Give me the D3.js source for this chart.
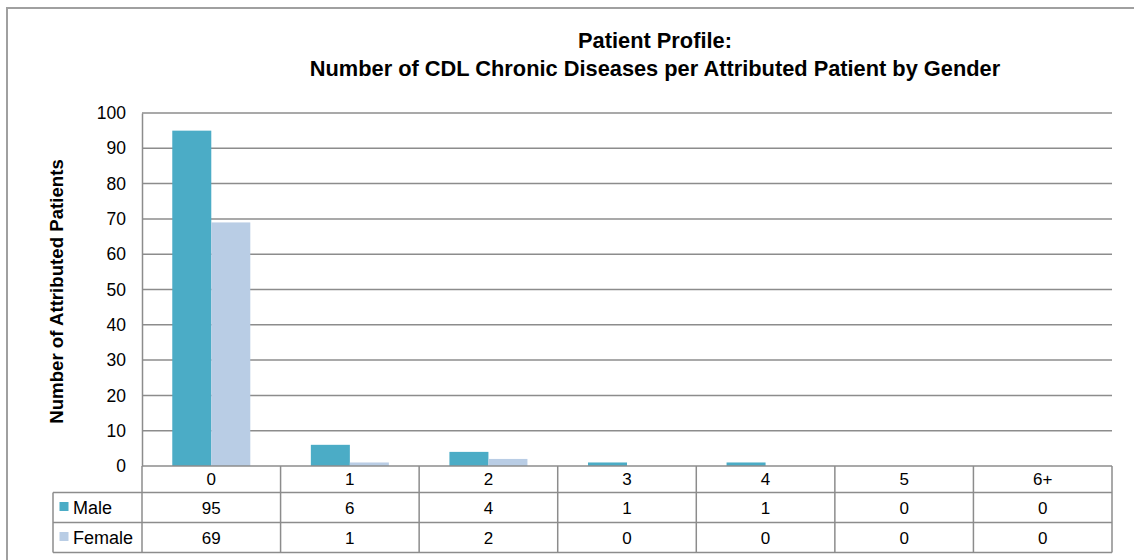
<!DOCTYPE html>
<html>
<head>
<meta charset="utf-8">
<script src="https://cdn.jsdelivr.net/npm/d3@7"></script>
<style>
  html, body { margin: 0; padding: 0; background: #fff; }
  svg { display: block; }
  text { font-family: "Liberation Sans", Arial, sans-serif; fill: #000; }
</style>
</head>
<body>
<svg id="chart" width="1134" height="560"></svg>
<script>
const categories = ["0", "1", "2", "3", "4", "5", "6+"];
const seriesNames = ["Male", "Female"];
const maleValues = [95, 6, 4, 1, 1, 0, 0];
const femaleValues = [69, 1, 2, 0, 0, 0, 0];
const yTicks = [0, 10, 20, 30, 40, 50, 60, 70, 80, 90, 100];
const titleLines = ["Patient Profile:", "Number of CDL Chronic Diseases per Attributed Patient by Gender"];
const yAxisTitle = "Number of Attributed Patients";

const colors = { Male: "#4BACC6", Female: "#B9CDE5" };
const seriesValues = { Male: maleValues, Female: femaleValues };
const gridColor = "#8c8c8c";

const svg = d3.select("#chart");

// outer chart border (extends beyond the picture on right/bottom)
svg.append("rect")
  .attr("x", 7).attr("y", 8)
  .attr("width", 1200).attr("height", 600)
  .attr("fill", "none").attr("stroke", "#a0a0a0").attr("stroke-width", 2);

const plot = { left: 142, right: 1112, top: 113, bottom: 466 };

const x = d3.scaleBand().domain(categories).range([plot.left, plot.right]).padding(0);
const groupPad = x.bandwidth() * 0.2185;
const xSub = d3.scaleBand().domain(seriesNames).range([groupPad, x.bandwidth() - groupPad]).padding(0);
const y = d3.scaleLinear().domain([0, 100]).range([plot.bottom, plot.top]);

// title
svg.append("g").selectAll("text").data(titleLines).join("text")
  .attr("x", 655).attr("y", (d, i) => 48 + i * 28)
  .attr("text-anchor", "middle")
  .attr("font-weight", "bold")
  .attr("font-size", 21.8)
  .text(d => d);

// gridlines
svg.append("g").selectAll("line").data(yTicks.filter(t => t > 0)).join("line")
  .attr("x1", plot.left).attr("x2", plot.right)
  .attr("y1", d => y(d)).attr("y2", d => y(d))
  .attr("stroke", gridColor).attr("stroke-width", 1.5);

// y axis (left line + labels)
const yAxis = d3.axisLeft(y).tickValues(yTicks).tickSize(0).tickPadding(16);
const yg = svg.append("g").attr("transform", `translate(${plot.left},0)`).call(yAxis);
yg.select(".domain").attr("stroke", gridColor).attr("stroke-width", 1.5);
yg.selectAll("text")
  .attr("font-family", "Liberation Sans, Arial, sans-serif")
  .attr("font-size", 17.5).attr("fill", "#000");

// y axis title
svg.append("text")
  .attr("transform", `translate(63, ${(plot.top + plot.bottom) / 2 + 2}) rotate(-90)`)
  .attr("text-anchor", "middle")
  .attr("font-weight", "bold")
  .attr("font-size", 18.67)
  .text(yAxisTitle);

// bars
const barData = [];
categories.forEach((c, i) => {
  seriesNames.forEach(s => barData.push({ cat: c, series: s, value: seriesValues[s][i] }));
});
svg.append("g").selectAll("rect").data(barData.filter(d => d.value > 0)).join("rect")
  .attr("x", d => x(d.cat) + xSub(d.series))
  .attr("width", xSub.bandwidth())
  .attr("y", d => y(d.value))
  .attr("height", d => y(0) - y(d.value))
  .attr("fill", d => colors[d.series]);

// data table
const rowBounds = [466, 492.5, 522.5, 552.5];
const legendLeft = 53;
const tg = svg.append("g");
const tLine = (x1, y1, x2, y2) => tg.append("line")
  .attr("x1", x1).attr("y1", y1).attr("x2", x2).attr("y2", y2)
  .attr("stroke", gridColor).attr("stroke-width", 1.5);

// horizontal lines
tLine(plot.left, rowBounds[0], plot.right, rowBounds[0]);
tLine(legendLeft, rowBounds[1], plot.right, rowBounds[1]);
tLine(legendLeft, rowBounds[2], plot.right, rowBounds[2]);
tLine(legendLeft, rowBounds[3], plot.right, rowBounds[3]);
// vertical lines
tLine(legendLeft, rowBounds[1], legendLeft, rowBounds[3]);
categories.forEach(c => tLine(x(c), rowBounds[0], x(c), rowBounds[3]));
tLine(plot.right, rowBounds[0], plot.right, rowBounds[3]);

// header labels
tg.selectAll("text.cat").data(categories).join("text").attr("class", "cat")
  .attr("x", d => x(d) + x.bandwidth() / 2)
  .attr("y", (rowBounds[0] + rowBounds[1]) / 2 + 6)
  .attr("text-anchor", "middle").attr("font-size", 17)
  .text(d => d);

// value rows
seriesNames.forEach((s, r) => {
  const cy = (rowBounds[r + 1] + rowBounds[r + 2]) / 2 + 6;
  tg.append("g").selectAll("text").data(seriesValues[s]).join("text")
    .attr("x", (d, i) => x(categories[i]) + x.bandwidth() / 2)
    .attr("y", cy)
    .attr("text-anchor", "middle").attr("font-size", 17)
    .text(d => d);
  tg.append("rect")
    .attr("x", 59.5).attr("y", cy - 11.5)
    .attr("width", 9).attr("height", 9)
    .attr("fill", colors[s]);
  tg.append("text")
    .attr("x", 73).attr("y", cy)
    .attr("font-size", 18)
    .text(s);
});
</script>
</body>
</html>
